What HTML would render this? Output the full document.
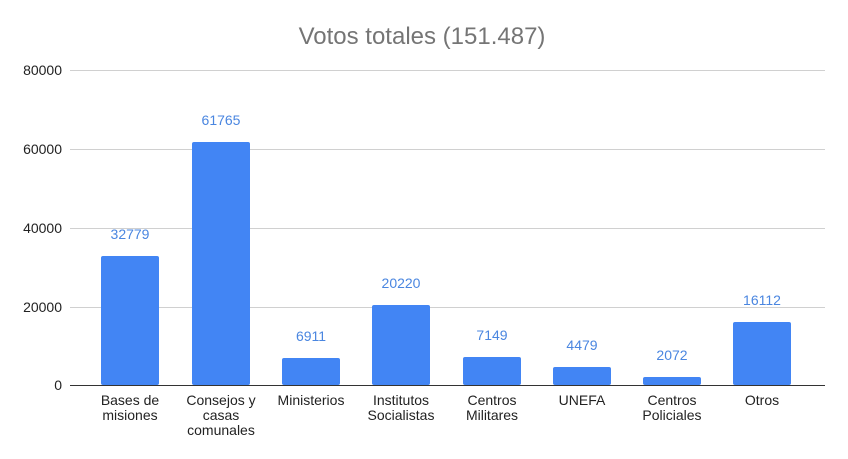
<!DOCTYPE html><html><head><style>body{margin:0;background:#fff}svg{display:block}</style></head><body>
<svg width="848" height="459" xmlns="http://www.w3.org/2000/svg" font-family="Liberation Sans, Arial, sans-serif">
<rect width="848" height="459" fill="#fff"/>
<text x="422" y="44" text-anchor="middle" font-size="24" fill="#757575">Votos totales (151.487)</text>
<g stroke="#d0d0d0" stroke-width="1">
<line x1="70" x2="825" y1="70.5" y2="70.5"/><line x1="70" x2="825" y1="149.5" y2="149.5"/><line x1="70" x2="825" y1="228.5" y2="228.5"/><line x1="70" x2="825" y1="307.5" y2="307.5"/>
</g>
<g font-size="14" fill="#222" text-anchor="end">
<text x="62" y="75">80000</text><text x="62" y="154">60000</text><text x="62" y="233">40000</text><text x="62" y="312">20000</text><text x="62" y="390">0</text>
</g>
<g fill="#4285f4">
<rect x="101" y="256" width="58" height="129" rx="2"/>
<rect x="192" y="142" width="58" height="243" rx="2"/>
<rect x="282" y="358" width="58" height="27" rx="2"/>
<rect x="372" y="305" width="58" height="80" rx="2"/>
<rect x="463" y="357" width="58" height="28" rx="2"/>
<rect x="553" y="367" width="58" height="18" rx="2"/>
<rect x="643" y="377" width="58" height="8" rx="2"/>
<rect x="733" y="322" width="58" height="63" rx="2"/>
</g>
<line x1="70" x2="825" y1="385.5" y2="385.5" stroke="#333" stroke-width="1"/>
<g font-size="14" fill="#4a86e0" text-anchor="middle">
<text x="130" y="239">32779</text><text x="221" y="125">61765</text><text x="311" y="341">6911</text><text x="401" y="288">20220</text><text x="492" y="340">7149</text><text x="582" y="350">4479</text><text x="672" y="360">2072</text><text x="762" y="305">16112</text>
</g>
<g font-size="14" fill="#222" text-anchor="middle">
<text x="130" y="405">Bases de</text><text x="130" y="420">misiones</text>
<text x="221" y="405">Consejos y</text><text x="221" y="420">casas</text><text x="221" y="435">comunales</text>
<text x="311" y="405">Ministerios</text>
<text x="401" y="405">Institutos</text><text x="401" y="420">Socialistas</text>
<text x="492" y="405">Centros</text><text x="492" y="420">Militares</text>
<text x="582" y="405">UNEFA</text>
<text x="672" y="405">Centros</text><text x="672" y="420">Policiales</text>
<text x="762" y="405">Otros</text>
</g>
</svg>
</body></html>
